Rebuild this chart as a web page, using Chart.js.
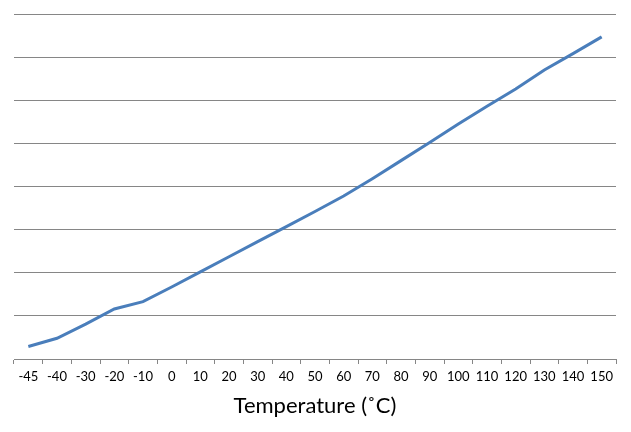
<!DOCTYPE html>
<html>
<head>
<meta charset="utf-8">
<script src="https://cdn.jsdelivr.net/npm/chart.js@4/dist/chart.umd.min.js"></script>
<style>
    html, body { margin: 0; padding: 0; background: #ffffff; }
    #wrap { width: 631px; height: 432px; }
</style>
</head>
<body>
<div id="wrap"><canvas id="chart"></canvas></div>
<script>
/* ------------------------------- Data -------------------------------*/

const TEMPERATURES = ["-45", "-40", "-30", "-20", "-10", "0", "10", "20", "30", "40", "50",
                      "60", "70", "80", "90", "100", "110", "120", "130", "140", "150"];
const VALUES = [0.29, 0.48, 0.81, 1.16, 1.33, 1.67, 2.02, 2.37, 2.72, 3.07, 3.42,
                3.78, 4.18, 4.60, 5.02, 5.45, 5.86, 6.26, 6.70, 7.08, 7.47];
const AXIS_TITLE = "Temperature (\u02DAC)";

const GRID_COLOR = "#868686";
const LINE_COLOR = "#4a7ebb";

/* ------------------------------- Chart -------------------------------*/

function createConfig(labels, data) {
    return {
        type: 'line',
        data: {
            labels: labels,
            datasets: [{
                data: data,
                borderColor: LINE_COLOR,
                borderWidth: 3,
                pointRadius: 0,
                tension: 0,
                fill: false
            }]
        },
        options: {
            responsive: true,
            maintainAspectRatio: false,
            animation: false,
            layout: {
                padding: { left: 14, right: 15, top: 14, bottom: 0 }
            },
            plugins: {
                legend: { display: false },
                tooltip: { enabled: false }
            },
            scales: {
                x: {
                    type: 'category',
                    offset: true,
                    grid: {
                        offset: true,
                        drawOnChartArea: false,
                        drawTicks: true,
                        tickLength: 5,
                        tickColor: GRID_COLOR,
                        tickWidth: 1
                    },
                    border: { display: true, color: GRID_COLOR, width: 1 },
                    ticks: {
                        color: '#000000',
                        font: { family: 'Lato', size: 13 },
                        padding: 5,
                        maxRotation: 0,
                        autoSkip: false
                    },
                    title: {
                        display: true,
                        text: AXIS_TITLE,
                        color: '#000000',
                        font: { family: 'Lato', size: 22 },
                        padding: { top: 0, bottom: 13 }
                    },
                    afterFit: function (axis) { axis.height = 73; }
                },
                y: {
                    min: 0,
                    max: 8,
                    ticks: { display: false, stepSize: 1 },
                    grid: {
                        color: GRID_COLOR,
                        lineWidth: 1,
                        drawTicks: false
                    },
                    border: { display: false },
                    afterFit: function (axis) { axis.width = 0; }
                }
            }
        }
    };
}

var ctx = document.getElementById('chart').getContext('2d');
new Chart(ctx, createConfig(TEMPERATURES, VALUES));
</script>
</body>
</html>
